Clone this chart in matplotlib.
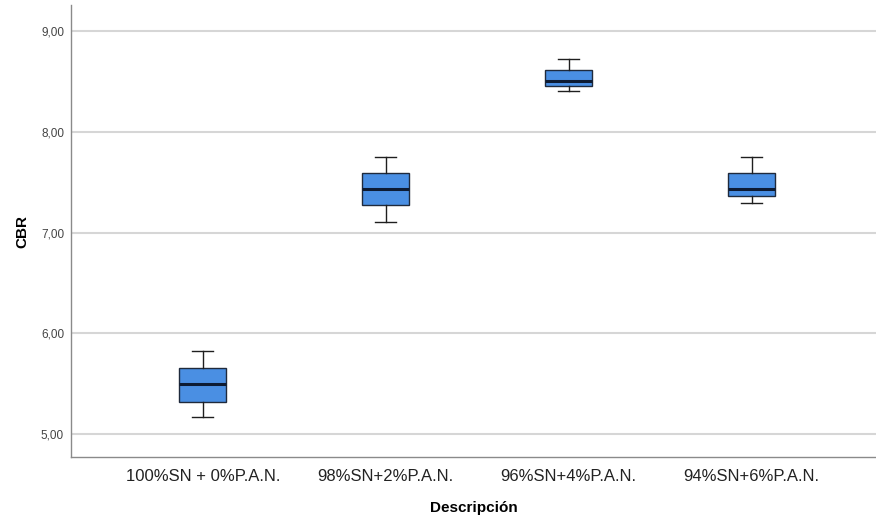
import matplotlib
matplotlib.use("Agg")
import matplotlib.pyplot as plt

# ---------------------------------------------
# Data
# ---------------------------------------------
categories = ["100%SN + 0%P.A.N.", "98%SN+2%P.A.N.", "96%SN+4%P.A.N.", "94%SN+6%P.A.N."]
whisker_low = [5.17, 7.11, 8.41, 7.29]
q1 = [5.32, 7.27, 8.46, 7.36]
median = [5.49, 7.43, 8.51, 7.43]
q3 = [5.65, 7.59, 8.62, 7.59]
whisker_high = [5.82, 7.75, 8.73, 7.75]
y_ticks = [5.0, 6.0, 7.0, 8.0, 9.0]

plt.rcParams["font.family"] = ["Liberation Sans", "DejaVu Sans"]

stats = []
for i, name in enumerate(categories):
    stats.append({
        "label": name,
        "whislo": whisker_low[i],
        "q1": q1[i],
        "med": median[i],
        "q3": q3[i],
        "whishi": whisker_high[i],
        "fliers": [],
    })

fig = plt.figure(figsize=(8.76, 5.21), dpi=100)
ax = fig.add_axes([0.081, 0.123, 0.919, 0.867])

# grid lines behind the boxes
for t in y_ticks:
    ax.axhline(t, color="#d6d6d6", lw=1.5, zorder=0)

ax.bxp(
    stats,
    positions=range(len(categories)),
    widths=0.26,
    patch_artist=True,
    showfliers=False,
    boxprops=dict(facecolor="#4a8fe3", edgecolor="#1f2a3c", linewidth=1.0),
    medianprops=dict(color="#0d1b33", linewidth=2.2),
    whiskerprops=dict(color="#1f1f1f", linewidth=1.0),
    capprops=dict(color="#1f1f1f", linewidth=1.0),
    capwidths=0.115,
    zorder=3,
)

ax.set_xlim(-0.72, 3.68)
ax.set_ylim(4.77, 9.26)
ax.set_yticks(y_ticks)
ax.set_yticklabels([f"{t:.2f}".replace(".", ",") for t in y_ticks], fontsize=8.5, color="#444444")
ax.set_xticks(range(len(categories)))
ax.set_xticklabels(categories, fontsize=12, color="#222222")
ax.tick_params(axis="y", length=0, pad=5)
ax.tick_params(axis="x", length=0, pad=9)

for side in ["top", "right"]:
    ax.spines[side].set_visible(False)
for side in ["left", "bottom"]:
    ax.spines[side].set_color("#8a8a8a")
    ax.spines[side].set_linewidth(1.0)

ax.set_ylabel("CBR", fontsize=11, fontweight="bold")
ax.yaxis.set_label_coords(-0.052, 0.5)
ax.set_xlabel("Descripción", fontsize=11, fontweight="bold", labelpad=12)

fig.savefig("out.png", dpi=100)
